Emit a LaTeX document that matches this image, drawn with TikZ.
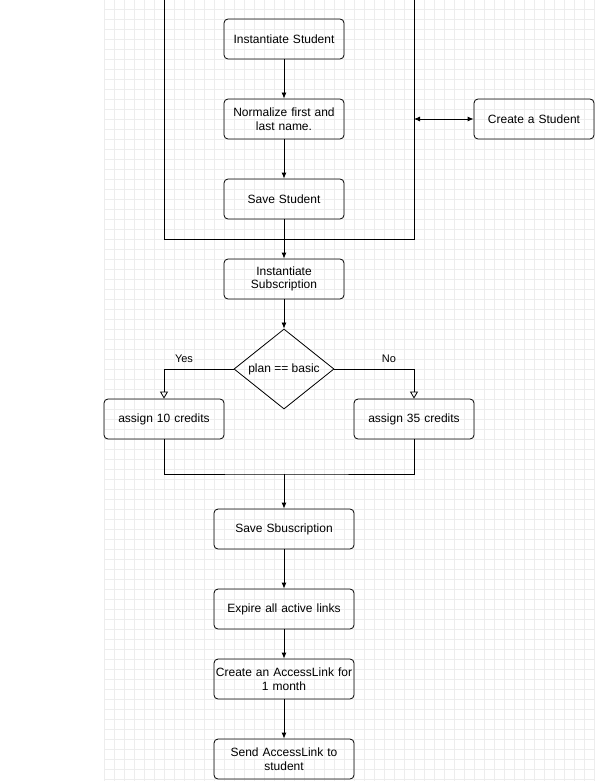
\documentclass[tikz,border=0pt]{standalone}
\usepackage{fontspec}
\setmainfont{Liberation Sans}
\usetikzlibrary{shapes.geometric,arrows.meta}
\begin{document}
\begin{tikzpicture}
[
x=1pt, y=-1pt,
font=\fontsize{12}{13.5}\selectfont,
box/.style={rectangle, rounded corners=4pt, draw, line width=0.8pt, minimum width=120pt, minimum height=40pt, inner sep=1pt, align=center, text width=118pt},
wide/.style={box, minimum width=140pt, text width=138pt},
decision/.style={diamond, draw, line width=0.8pt, minimum width=100pt, minimum height=80pt, inner sep=0pt, aspect=1.25},
arr/.style={-{Latex[length=6pt,width=5pt]}, line width=0.8pt},
openarr/.style={-{Triangle[open,length=7pt,width=8pt]}, line width=0.8pt},
lbl/.style={font=\fontsize{11}{12}\selectfont}
]
\useasboundingbox (0,0) rectangle (600,781);
% grid
\fill[white] (0,0) rectangle (600,781);
\foreach \x in {104,114,...,594} \draw[black!7, line width=0.8pt] (\x,0) -- (\x,781);
\foreach \y in {9,19,...,779} \draw[black!7, line width=0.8pt] (104,\y) -- (595,\y);

% student part
\draw[line width=0.8pt] (164,-5) rectangle (414,239);
\node[box] (inst) at (284,39) {Instantiate Student};
\node[box] (norm) at (284,119) {Normalize first and\\last name.};
\node[box] (save) at (284,199) {Save Student};
\node[box] (create) at (534,119) {Create a Student};
\coordinate (frame) at (414,119);
\coordinate (framebot) at (284,239);
\draw[arr] (inst) -- (norm);
\draw[arr] (norm) -- (save);
\draw[arr, {Latex[length=6pt,width=5pt]}-{Latex[length=6pt,width=5pt]}] (frame) -- (create);

% subscription
\node[box] (sub) at (284,279) {Instantiate\\Subscription};
\draw[line width=0.8pt] (save) -- (framebot);
\draw[arr] (framebot) -- (sub);
\node[decision] (plan) at (284,369) {plan == basic};
\draw[arr] (sub) -- (plan);
\node[box] (ten) at (164,419) {assign 10 credits};
\node[box] (thirty) at (414,419) {assign 35 credits};
\draw[openarr] (plan.west) -| (ten.north);
\draw[openarr] (plan.east) -| (thirty.north);
\node[lbl] (yes) at (184,359) {Yes};
\node[lbl] (no) at (389,359) {No};

% merge
\coordinate (merge) at (284,474);
\node[wide] (savesub) at (284,529) {Save Sbuscription};
\draw[line width=0.8pt] (ten.south) |- (merge) -| (thirty.south);
\draw[arr] (merge) -- (savesub);
\node[wide] (expire) at (284,609) {Expire all active links};
\node[wide] (link) at (284,679) {Create an AccessLink for\\1 month};
\node[wide] (send) at (284,759) {Send AccessLink to\\student};
\draw[arr] (savesub) -- (expire);
\draw[arr] (expire) -- (link);
\draw[arr] (link) -- (send);
\end{tikzpicture}
\end{document}
